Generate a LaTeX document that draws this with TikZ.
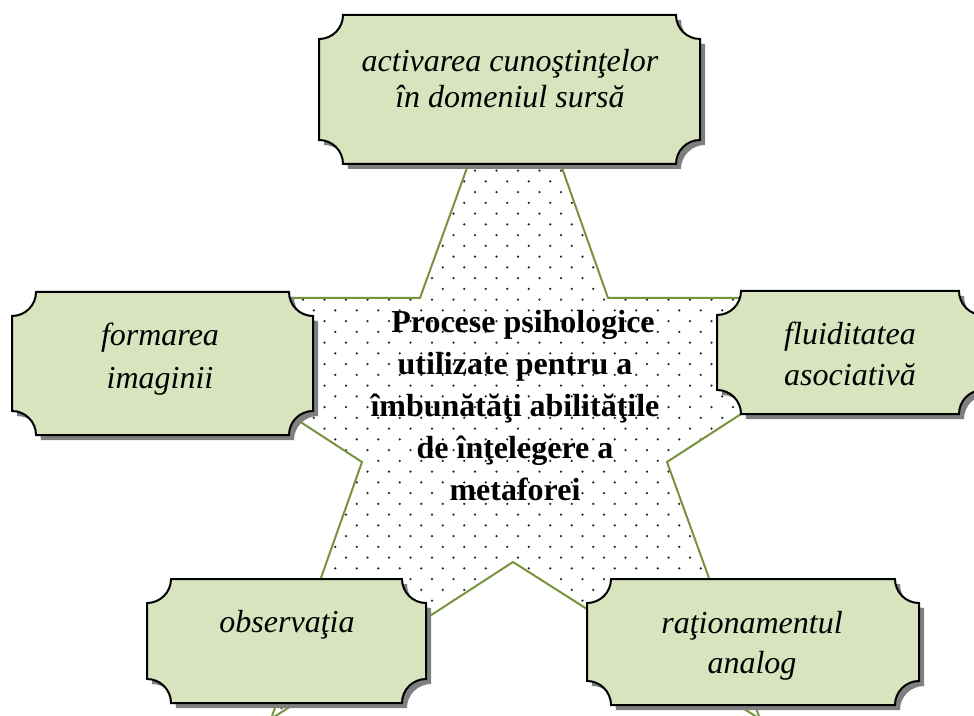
\documentclass[tikz,border=0pt]{standalone}
\usepackage{fontspec}
\setmainfont{Liberation Serif}
\definecolor{boxgreen}{HTML}{D7E4BD}
\definecolor{stargreen}{HTML}{77933C}
\definecolor{shadowgray}{HTML}{7F7F7F}
\definecolor{dotcol}{HTML}{262626}
\tikzset{
  boxstyle/.style={fill=boxgreen, draw=black, line width=1.5pt, line join=miter},
  shadowstyle/.style={fill=shadowgray, shift={(5,5)}},
  starstyle/.style={draw=stargreen, line width=1.5pt, line join=miter},
  itext/.style={font=\itshape\fontsize{24}{30}\selectfont, align=center, inner sep=0pt, anchor=base},
  btext/.style={font=\bfseries\fontsize{24}{31.5}\selectfont, align=center, inner sep=0pt, anchor=base}
}
\newcommand{\myplaque}[4]{%
  \fill[shadowstyle] (#1+24,#2) -- (#3-24,#2) arc[start angle=180,end angle=90,radius=24]
     -- (#3,#4-24) arc[start angle=270,end angle=180,radius=24]
     -- (#1+24,#4) arc[start angle=0,end angle=-90,radius=24]
     -- (#1,#2+24) arc[start angle=90,end angle=0,radius=24] -- cycle;
  \path[boxstyle] (#1+24,#2) -- (#3-24,#2) arc[start angle=180,end angle=90,radius=24]
     -- (#3,#4-24) arc[start angle=270,end angle=180,radius=24]
     -- (#1+24,#4) arc[start angle=0,end angle=-90,radius=24]
     -- (#1,#2+24) arc[start angle=90,end angle=0,radius=24] -- cycle;
}
\begin{document}
\begin{tikzpicture}[x=0.75pt,y=-0.75pt]
\useasboundingbox (0,0) rectangle (974,716);
\clip (0,0) rectangle (974,716);
% star points
\coordinate (T) at (515,35);
\coordinate (i1) at (608,298);
\coordinate (R) at (920,298);
\coordinate (i2) at (667,462);
\coordinate (BR) at (760,719);
\coordinate (i3) at (513,562);
\coordinate (BL) at (271,719);
\coordinate (i4) at (362,462);
\coordinate (L) at (110,298);
\coordinate (i5) at (420,298);
\fill[white] (T)--(i1)--(R)--(i2)--(BR)--(i3)--(BL)--(i4)--(L)--(i5)--cycle;
\begin{scope}
\clip (T)--(i1)--(R)--(i2)--(BR)--(i3)--(BL)--(i4)--(L)--(i5)--cycle;
\foreach \j in {-13,...,51}{
  \pgfmathsetmacro\xo{475+10.75*mod(\j+26,2)}
  \foreach \k in {-18,...,21}{
    \fill[dotcol] (\xo+21.5*\k, 170.7+10.75*\j) circle[radius=1.25];
  }
}
\end{scope}
\path[starstyle] (T)--(i1)--(R)--(i2)--(BR)--(i3)--(BL)--(i4)--(L)--(i5)--cycle;
% boxes
\myplaque{319}{15}{700}{164}
\myplaque{12}{292}{313}{435}
\myplaque{717}{291}{983}{414}
\myplaque{147}{579}{426}{703}
\myplaque{587}{579}{919}{705}
% texts (anchor base = baseline of the last line)
\node[itext, font=\itshape\fontsize{24}{27}\selectfont] (top) at (510,108) {activarea cunoştinţelor\\în domeniul sursă};
\node[itext, font=\itshape\fontsize{24}{32}\selectfont] (left) at (160,388) {formarea\\imaginii};
\node[itext] (right) at (850,385) {fluiditatea\\asociativă};
\node[itext] (obs) at (287,632) {observaţia};
\node[itext] (rat) at (752,673) {raţionamentul\\analog};
\node[btext] (center) at (515,500) {\hspace*{12pt}Procese psihologice\\utilizate pentru a\\îmbunătăţi abilităţile\\de înţelegere a\\metaforei};
\end{tikzpicture}
\end{document}
